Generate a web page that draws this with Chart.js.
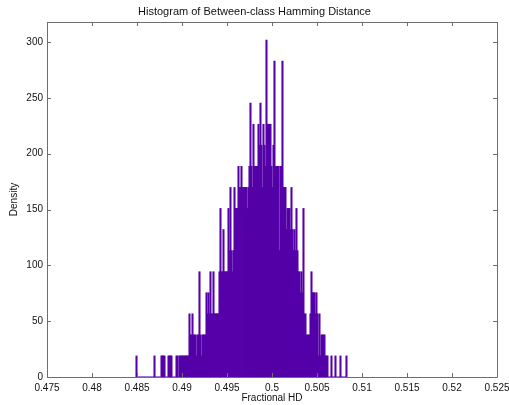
<!DOCTYPE html>
<html>
<head>
<meta charset="utf-8">
<script src="https://cdn.jsdelivr.net/npm/chart.js@4/dist/chart.umd.min.js"></script>
<style>
  html, body { margin: 0; padding: 0; background: #fff; }
  #hd_hist { display: block; }
</style>
</head>
<body>
<canvas id="hd_hist" width="509" height="405"></canvas>
<script>
// histogram bins: first bin centre and bin width (fractional HD)
const binStart = 0.484944;
const binWidth = 0.0001111;

// density per bin (left to right)
const density = [
  18.9, 0, 0, 0, 0, 0, 0, 0, 0, 0,
  0, 0, 0, 0, 0, 0, 0, 0, 18.9, 0,
  0, 0, 0, 0, 0, 18.9, 18.9, 18.9, 18.9, 0,
  0, 0, 18.9, 18.9, 18.9, 18.9, 0, 0, 0, 0,
  18.9, 18.9, 0, 18.9, 18.9, 18.9, 18.9, 18.9, 18.9, 18.9,
  18.9, 18.9, 18.9, 56.6, 37.7, 37.7, 56.6, 37.7, 37.7, 37.7,
  18.9, 37.7, 37.7, 94.3, 37.7, 18.9, 37.7, 37.7, 37.7, 37.7,
  75.5, 56.6, 75.5, 56.6, 94.3, 56.6, 56.6, 94.3, 56.6, 56.6,
  56.6, 56.6, 56.6, 94.3, 151.0, 94.3, 94.3, 132.1, 94.3, 94.3,
  94.3, 94.3, 151.0, 113.2, 169.8, 113.2, 94.3, 113.2, 169.8, 151.0,
  151.0, 151.0, 188.7, 169.8, 169.8, 188.7, 169.8, 169.8, 169.8, 169.8,
  169.8, 151.0, 169.8, 188.7, 245.3, 188.7, 169.8, 226.4, 188.7, 188.7,
  188.7, 188.7, 226.4, 207.6, 245.3, 207.6, 169.8, 226.4, 207.6, 188.7,
  301.9, 226.4, 226.4, 226.4, 226.4, 188.7, 169.8, 207.6, 283.0, 188.7,
  188.7, 188.7, 188.7, 113.2, 188.7, 188.7, 283.0, 169.8, 169.8, 169.8,
  132.1, 151.0, 151.0, 151.0, 132.1, 169.8, 132.1, 113.2, 132.1, 113.2,
  151.0, 113.2, 94.3, 94.3, 75.5, 94.3, 75.5, 151.0, 56.6, 56.6,
  37.7, 37.7, 37.7, 37.7, 56.6, 94.3, 75.5, 75.5, 75.5, 56.6,
  75.5, 56.6, 18.9, 56.6, 18.9, 37.7, 37.7, 37.7, 37.7, 18.9,
  18.9, 18.9, 0, 0, 0, 18.9, 0, 0, 0, 18.9,
  0, 0, 0, 0, 18.9, 0, 0, 0, 0, 0, 18.9,
];

const xTickValues = [0.475, 0.48, 0.485, 0.49, 0.495, 0.5, 0.505, 0.51, 0.515, 0.52, 0.525];
const xTickLabels = ["0.475", "0.48", "0.485", "0.49", "0.495", "0.5", "0.505", "0.51", "0.515", "0.52", "0.525"];
const yTickValues = [0, 50, 100, 150, 200, 250, 300];

const X_MIN = 0.475, X_MAX = 0.525, Y_MAX = 318;
const BAR_COLOR = "#5500a8";
const AXIS_COLOR = "#6e6e6e";
const FONT = "'Liberation Sans', Arial, sans-serif";

// MATLAB-like box with inward ticks on all four sides
const boxAxes = {
  id: "boxAxes",
  afterDraw(chart) {
    const { ctx, chartArea: a, scales } = chart;
    const len = 4;
    ctx.save();
    ctx.strokeStyle = AXIS_COLOR;
    ctx.lineWidth = 1;
    ctx.beginPath();
    ctx.rect(Math.round(a.left) + 0.5, Math.round(a.top) + 0.5,
             Math.round(a.right - a.left), Math.round(a.bottom - a.top));
    xTickValues.forEach((v) => {
      const px = Math.round(scales.x.getPixelForValue(v)) + 0.5;
      ctx.moveTo(px, a.bottom); ctx.lineTo(px, a.bottom - len);
      ctx.moveTo(px, a.top); ctx.lineTo(px, a.top + len);
    });
    yTickValues.forEach((v) => {
      const py = Math.round(scales.y.getPixelForValue(v)) + 0.5;
      ctx.moveTo(a.left, py); ctx.lineTo(a.left + len, py);
      ctx.moveTo(a.right, py); ctx.lineTo(a.right - len, py);
    });
    ctx.stroke();
    ctx.restore();
  },
};

function renderChart() {
  const points = density.map((d, i) => ({ x: binStart + i * binWidth, y: d }));

  new Chart(document.getElementById("hd_hist"), {
    type: "bar",
    data: {
      datasets: [{
        data: points,
        backgroundColor: BAR_COLOR,
        borderWidth: 0,
        barThickness: 1.4,
      }],
    },
    options: {
      responsive: false,
      animation: false,
      devicePixelRatio: 1,
      layout: { padding: 0 },
      scales: {
        x: {
          type: "linear",
          offset: false,
          min: X_MIN,
          max: X_MAX,
          grid: { display: false, drawTicks: false },
          border: { display: false },
          ticks: {
            font: { family: FONT, size: 10 },
            color: "#111",
            padding: 5,
            maxRotation: 0,
            callback: (v, i) => xTickLabels[i],
          },
          afterBuildTicks: (s) => { s.ticks = xTickValues.map((v) => ({ value: v })); },
          afterFit: (s) => { s.height = 28; s.paddingLeft = 0; s.paddingRight = 12; },
          title: {
            display: true,
            text: "Fractional HD",
            font: { family: FONT, size: 10 },
            color: "#111",
            padding: { top: 0, bottom: 0.5 },
          },
        },
        y: {
          min: 0,
          max: Y_MAX,
          grid: { display: false, drawTicks: false },
          border: { display: false },
          ticks: {
            font: { family: FONT, size: 10 },
            color: "#111",
            padding: 4,
          },
          afterBuildTicks: (s) => { s.ticks = yTickValues.map((v) => ({ value: v })); },
          afterFit: (s) => { s.width = 47; s.paddingTop = 0; s.paddingBottom = 0; },
          title: {
            display: true,
            text: "Density",
            font: { family: FONT, size: 10 },
            color: "#111",
            padding: { top: 8.5, bottom: 0 },
          },
        },
      },
      plugins: {
        legend: { display: false },
        tooltip: { enabled: false },
        title: {
          display: true,
          text: "Histogram of Between-class Hamming Distance",
          font: { family: FONT, size: 11, weight: "normal" },
          color: "#111",
          padding: { top: 5, bottom: 3.8 },
        },
      },
    },
    plugins: [boxAxes],
  });
}

document.addEventListener("DOMContentLoaded", renderChart);
</script>
</body>
</html>
